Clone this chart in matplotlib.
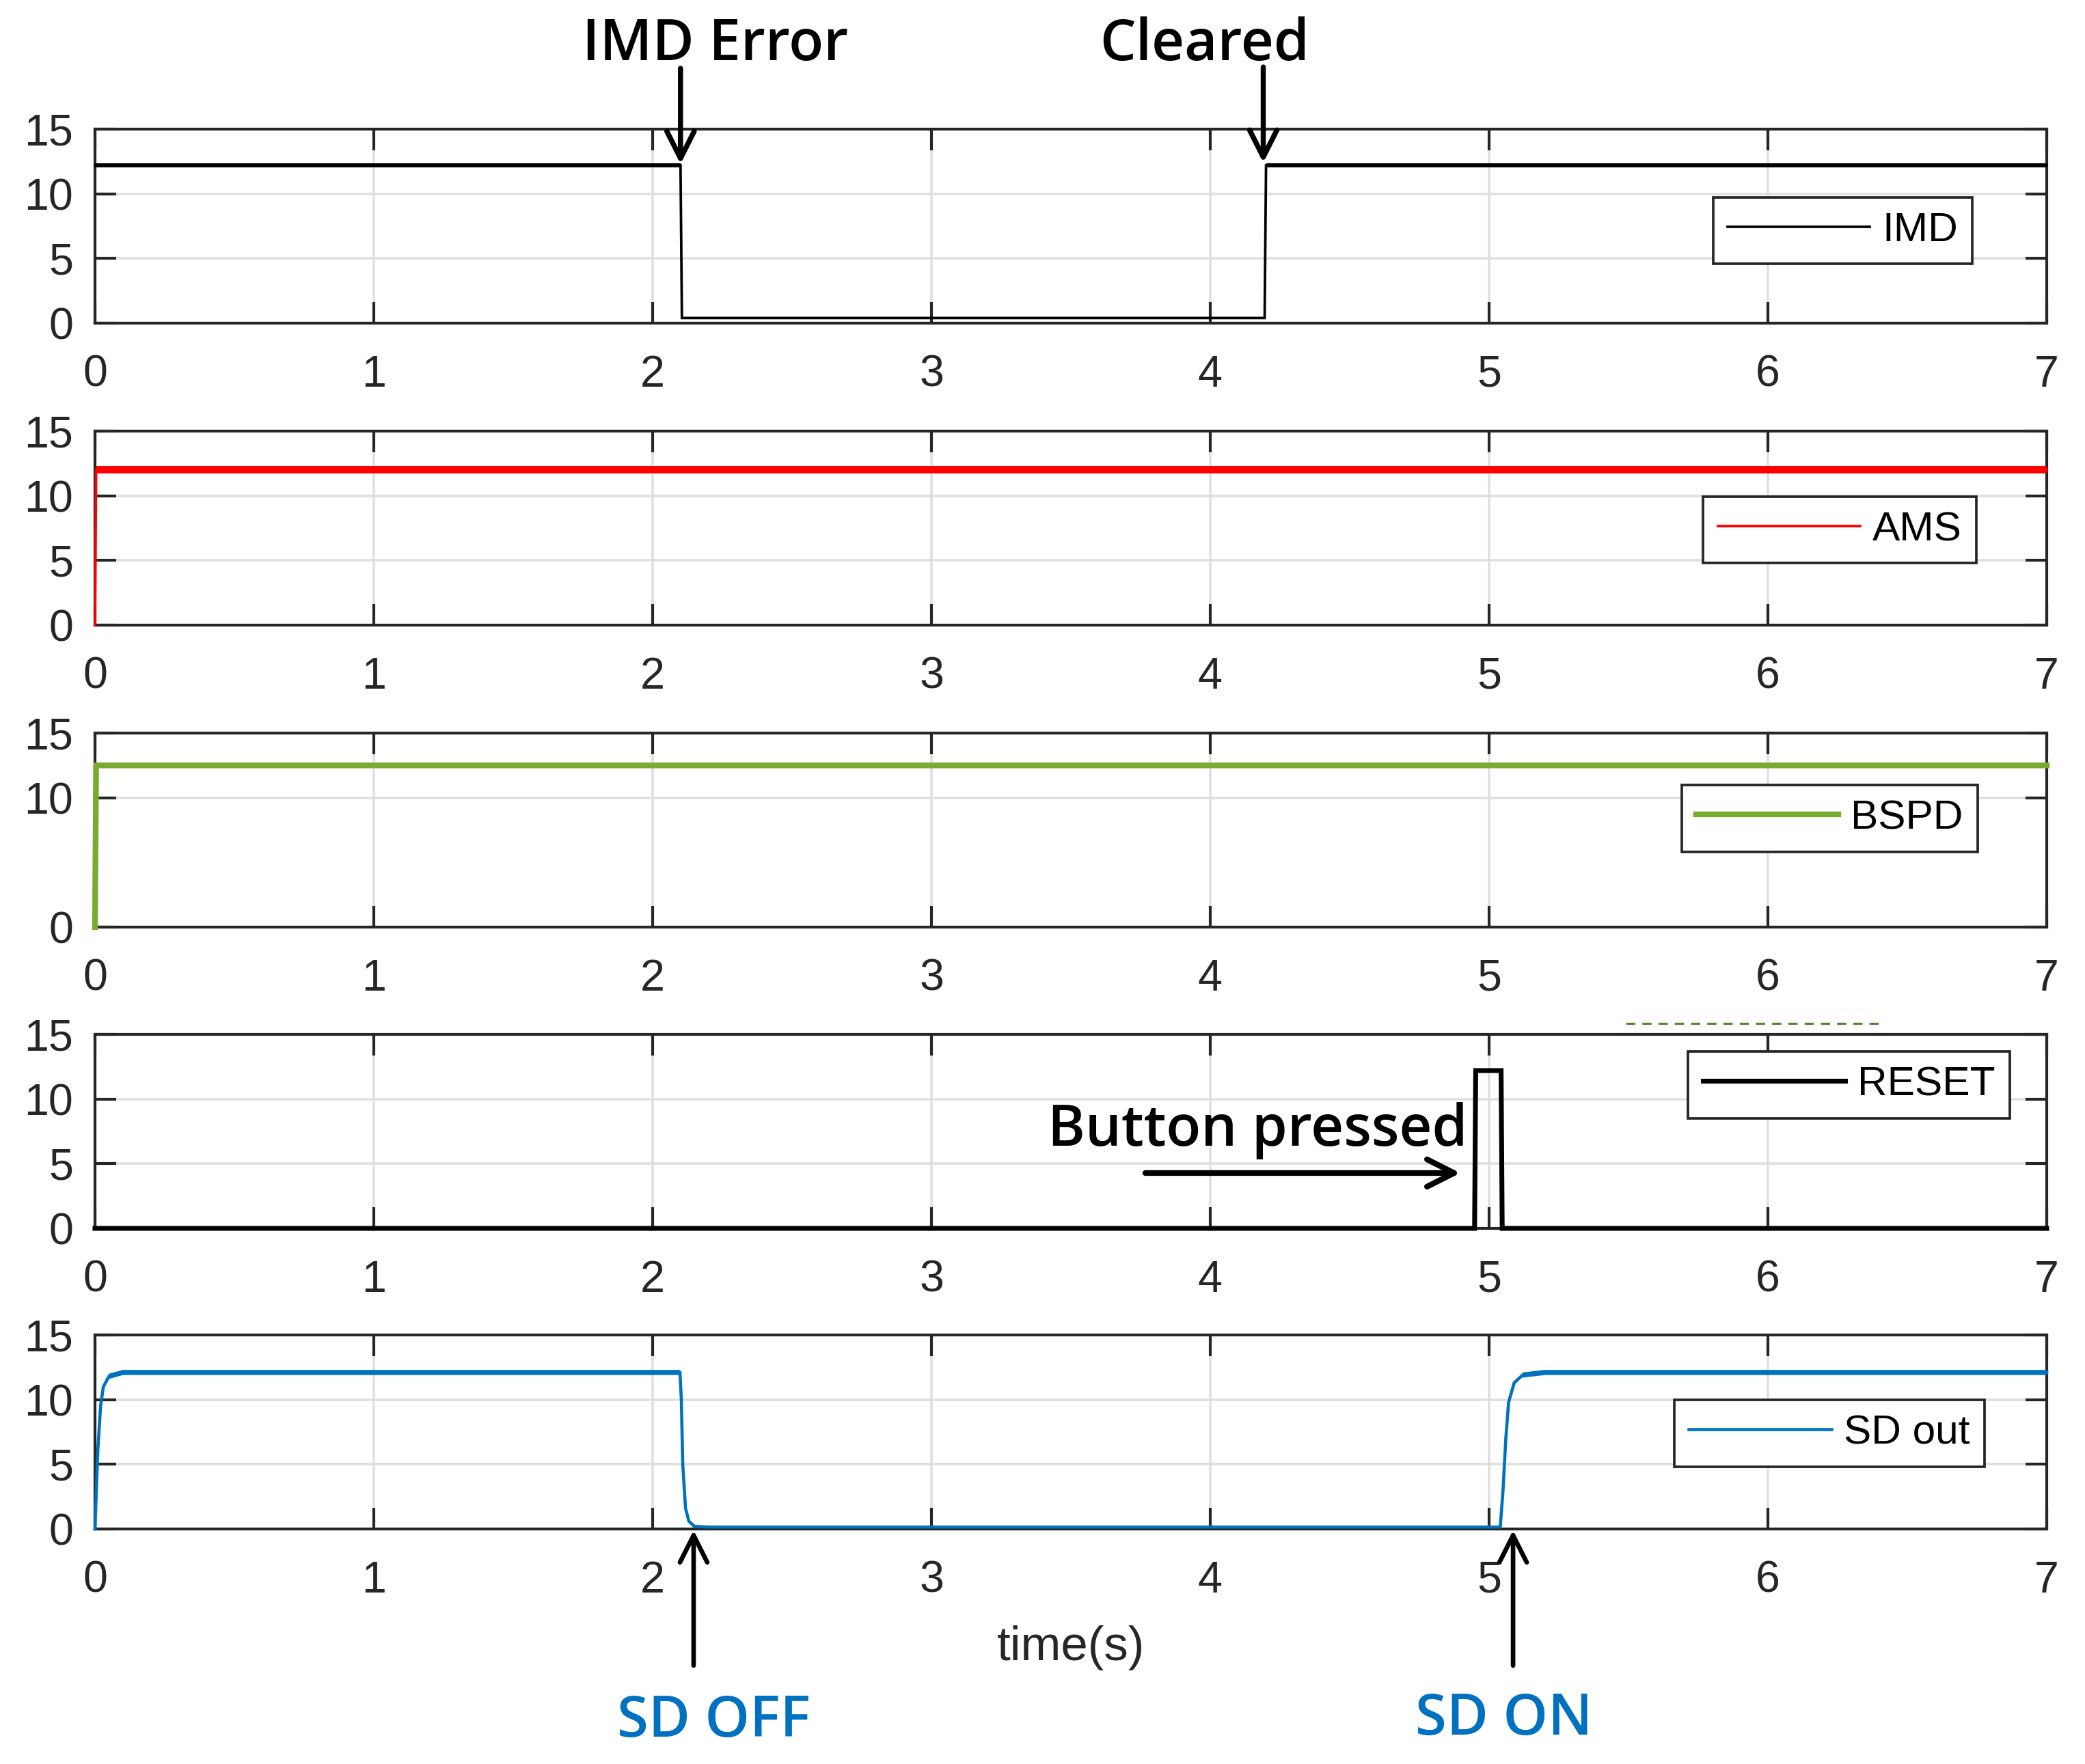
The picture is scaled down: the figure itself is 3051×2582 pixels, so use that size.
import matplotlib
matplotlib.use("Agg")
import matplotlib.pyplot as plt
from matplotlib.lines import Line2D
import numpy as np

# ---------------- data ----------------
time_ticks = [0, 1, 2, 3, 4, 5, 6, 7]
y_ticks_std = [0, 5, 10, 15]
y_ticks_bspd = [0, 10, 15]

imd_t = [0.0, 2.100, 2.105, 4.195, 4.200, 7.0]
imd_v = [12.2, 12.2, 0.4, 0.4, 12.2, 12.2]
imd_ripple = 0.18

ams_t = [0.0, 0.004, 7.0]
ams_v = [0.0, 12.0, 12.0]
ams_ripple = 0.3

bspd_t = [0.0, 0.004, 7.0]
bspd_v = [0.0, 12.5, 12.5]
bspd_ripple = 0.06

reset_t = [0.0, 4.948, 4.952, 5.043, 5.047, 7.0]
reset_v = [0.0, 0.0, 12.2, 12.2, 0.0, 0.0]

sd_t = [0.0, 0.01, 0.02, 0.03, 0.05, 0.10, 2.098, 2.103, 2.108, 2.118, 2.13, 2.15, 2.20,
        5.040, 5.050, 5.060, 5.070, 5.090, 5.120, 5.200, 7.0]
sd_v = [0.0, 6.0, 9.5, 11.0, 11.8, 12.1, 12.1, 10.0, 5.0, 1.6, 0.6, 0.2, 0.15,
        0.15, 3.0, 7.0, 9.8, 11.3, 11.9, 12.1, 12.1]
sd_ripple = 0.2

# event annotations (time, level)
imd_error_t, cleared_t = 2.10, 4.19
button_tail_t, button_tip_t, button_level = 3.767, 4.897, 4.28
sd_off_t, sd_on_t = 2.147, 5.086

# ---------------- style ----------------
plt.rcParams['font.family'] = ['Liberation Sans', 'DejaVu Sans']
AX_COL = '#262626'
GRID_COL = '#dfdfdf'
C_IMD, C_AMS, C_BSPD, C_RESET, C_SD = '#000000', '#ff0000', '#77ac30', '#000000', '#0072bd'
ANN_FONT = ['Open Sans', 'DejaVu Sans']

W, H, DPI = 3051, 2582, 300
fig = plt.figure(figsize=(W / DPI, H / DPI), dpi=DPI)

left = 139 / W
width = (2995 - 139) / W
tops_px = [189, 631, 1073, 1514, 1954]
h_px = 284

axes = []
for top in tops_px:
    b = 1 - (top + h_px) / H
    ax = fig.add_axes([left, b, width, h_px / H])
    axes.append(ax)

def style_axis(ax, yticks):
    ax.set_xlim(0, 7)
    ax.set_ylim(0, 15)
    ax.set_xticks(time_ticks)
    ax.set_yticks(yticks)
    ax.grid(True, color=GRID_COL, linewidth=0.85)
    ax.set_axisbelow(True)
    ax.tick_params(axis='both', direction='in', length=7.5, width=1.0, color=AX_COL,
                   labelcolor=AX_COL, labelsize=15.5, top=True, right=True)
    ax.tick_params(axis='x', pad=11.0)
    ax.tick_params(axis='y', pad=7.7)
    for s in ax.spines.values():
        s.set_linewidth(1.0)
        s.set_color(AX_COL)
        s.set_zorder(2.5)

def add_series(ax, t, v, color, lw, label, ripple=None):
    ax.plot(t, v, color=color, lw=lw, label=label, zorder=3, clip_on=False,
            solid_joinstyle='miter')
    if ripple:
        tv = np.array(t); vv = np.array(v)
        ax.fill_between(tv, vv - ripple, vv + ripple, where=vv >= 11.5,
                        color=color, lw=0, zorder=3)

def add_legend(ax, xr, yc):
    leg = ax.legend(loc='center right', bbox_to_anchor=(xr, yc), borderaxespad=0,
                    fontsize=14.5, handlelength=3.45, handletextpad=0.3, borderpad=0.35,
                    fancybox=False, framealpha=1, edgecolor=AX_COL)
    leg.get_frame().set_linewidth(0.9)
    leg.set_zorder(5)

ax1, ax2, ax3, ax4, ax5 = axes
style_axis(ax1, y_ticks_std)
style_axis(ax2, y_ticks_std)
style_axis(ax3, y_ticks_bspd)
style_axis(ax4, y_ticks_std)
style_axis(ax5, y_ticks_std)

add_series(ax1, imd_t, imd_v, C_IMD, 0.9, 'IMD', imd_ripple)
add_series(ax2, ams_t, ams_v, C_AMS, 0.9, 'AMS', ams_ripple)
add_series(ax3, bspd_t, bspd_v, C_BSPD, 2.0, 'BSPD', bspd_ripple)
add_series(ax4, reset_t, reset_v, C_RESET, 1.7, 'RESET')
add_series(ax5, sd_t, sd_v, C_SD, 1.1, 'SD out', sd_ripple)

add_legend(ax1, 0.962, 0.477)
add_legend(ax2, 0.964, 0.491)
add_legend(ax3, 0.9646, 0.56)
add_legend(ax4, 0.981, 0.739)
add_legend(ax5, 0.968, 0.493)

ax5.set_xlabel('time(s)', fontsize=17, color=AX_COL, labelpad=8.5)

# ---------------- annotations ----------------
def arrow(ax, x0, y0, x1, y1, lw):
    ax.annotate('', xy=(x1, y1), xytext=(x0, y0), xycoords='data', textcoords='data',
                annotation_clip=False,
                arrowprops=dict(arrowstyle='->,head_length=0.95,head_width=0.48',
                                lw=lw, color='black', shrinkA=0, shrinkB=0,
                                mutation_scale=10))

ann_kw = dict(fontsize=20, fontweight='semibold', family=ANN_FONT, clip_on=False)

arrow(ax1, imd_error_t, 19.7, imd_error_t, 12.3, 1.8)
ax1.text(2.225, 20.34, 'IMD Error', ha='center', va='baseline', color='black', **ann_kw)
arrow(ax1, cleared_t, 19.8, cleared_t, 12.4, 1.8)
ax1.text(3.98, 20.34, 'Cleared', ha='center', va='baseline', color='black', **ann_kw)

arrow(ax4, button_tail_t, button_level, button_tip_t, button_level, 2.0)
ax4.text(4.17, 6.39, 'Button pressed', ha='center', va='baseline', color='black', **ann_kw)

arrow(ax5, sd_off_t, -10.56, sd_off_t, -0.1, 1.6)
arrow(ax5, sd_on_t, -10.56, sd_on_t, -0.1, 1.6)
ax5.text(2.22, -16.06, 'SD OFF', ha='center', va='baseline', color='#0070c0', **ann_kw)
ax5.text(5.054, -15.9, 'SD ON', ha='center', va='baseline', color='#0070c0', **ann_kw)

# stray green dashed line above the RESET panel
fig.add_artist(Line2D([2379 / W, 2758 / W], [1 - 1498 / H, 1 - 1498 / H],
                      transform=fig.transFigure, color='#4a8a2a', lw=0.75,
                      dashes=(4.3, 3.3)))

fig.savefig('out.png', dpi=DPI)
